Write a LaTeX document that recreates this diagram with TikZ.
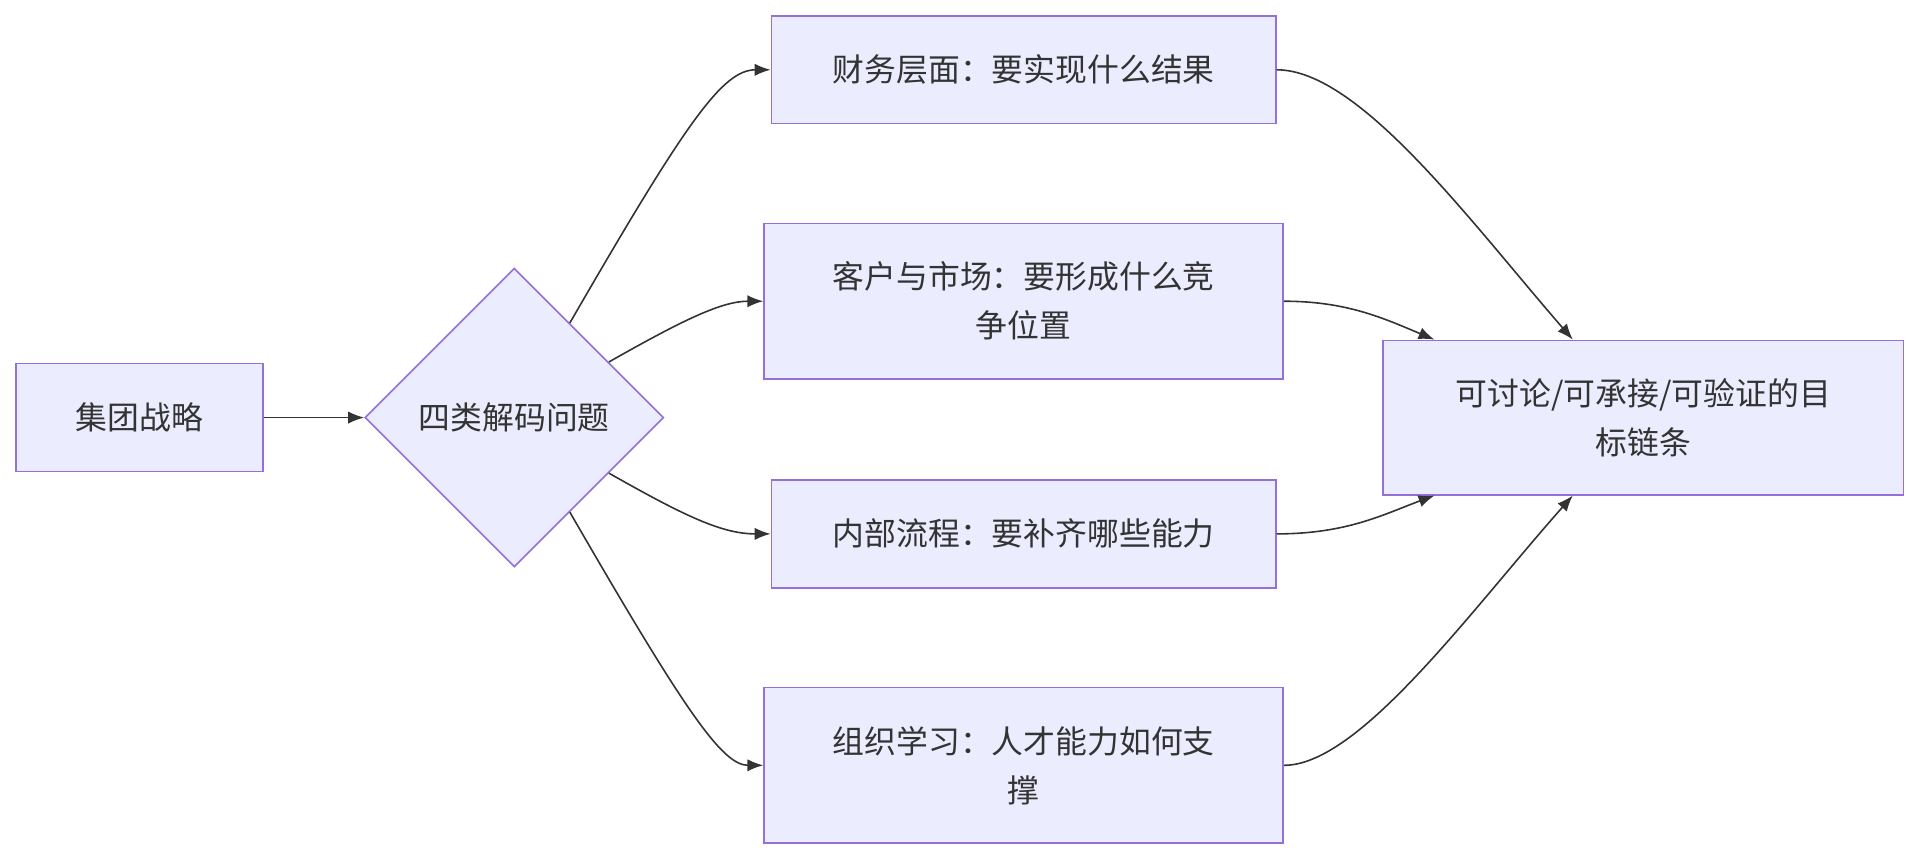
\documentclass[tikz,border=0pt]{standalone}
\usepackage{fontspec}
\setmainfont{Noto Sans CJK SC}
\usetikzlibrary{shapes.geometric,calc,arrows.meta}
\definecolor{nfill}{HTML}{ECECFF}
\definecolor{nline}{HTML}{9370DB}
\definecolor{eline}{HTML}{333333}
\begin{document}
\begin{tikzpicture}[x=1pt,y=-1pt,
  box/.style={draw=nline,fill=nfill,line width=1.3pt,inner sep=0pt,align=center,font=\fontsize{26}{40}\selectfont,text=eline},
  conn/.style={draw=eline,line width=1.3pt,-{Latex[length=13pt,width=10pt]}}]
\useasboundingbox (0,0) rectangle (1568,702);
\node[box,minimum width=202pt,minimum height=88pt] (a) at (114,341) {集团战略};
\node[box,diamond,shape aspect=1,minimum width=244pt,minimum height=244pt] (d) at (420,341) {四类解码问题};
\node[box,minimum width=412pt,minimum height=88pt] (f) at (836,57) {财务层面：要实现什么结果};
\node[box,minimum width=424pt,minimum height=127pt] (c) at (836,246) {客户与市场：要形成什么竞\\争位置};
\node[box,minimum width=412pt,minimum height=88pt] (p) at (836,436) {内部流程：要补齐哪些能力};
\node[box,minimum width=424pt,minimum height=127pt] (o) at (836,625) {组织学习：人才能力如何支\\撑};
\node[box,minimum width=425pt,minimum height=126pt] (t) at (1342,341) {可讨论/可承接/可验证的目\\标链条};
\draw[conn] (a.east) -- (d.west);
\draw[conn] ($(d.north)!0.37!(d.east)$) .. controls (560,100) and (590,57) .. (f.west);
\draw[conn] ($(d.north)!0.63!(d.east)$) .. controls (560,260) and (590,246) .. (c.west);
\draw[conn] ($(d.south)!0.63!(d.east)$) .. controls (560,422) and (590,436) .. (p.west);
\draw[conn] ($(d.south)!0.37!(d.east)$) .. controls (560,582) and (590,625) .. (o.west);
\draw[conn] (f.east) .. controls (1110,57) and (1200,180) .. ($(t.north west)!0.365!(t.north east)$);
\draw[conn] (c.east) .. controls (1100,246) and (1130,260) .. ($(t.north west)!0.1!(t.north east)$);
\draw[conn] (p.east) .. controls (1100,436) and (1130,420) .. ($(t.south west)!0.1!(t.south east)$);
\draw[conn] (o.east) .. controls (1110,625) and (1200,500) .. ($(t.south west)!0.365!(t.south east)$);
\end{tikzpicture}
\end{document}
